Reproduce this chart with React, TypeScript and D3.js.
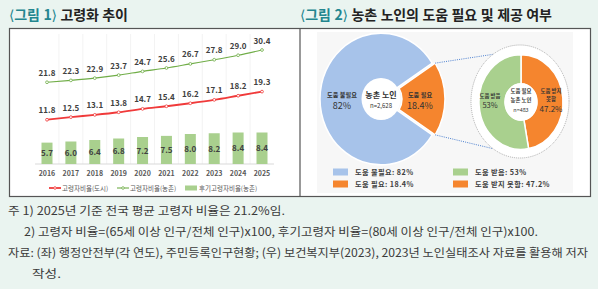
import * as d3 from 'd3'

const years = ['2016', '2017', '2018', '2019', '2020', '2021', '2022', '2023', '2024', '2025']
const urbanRatio = [11.8, 12.5, 13.1, 13.8, 14.7, 15.4, 16.2, 17.1, 18.2, 19.3]
const ruralRatio = [21.8, 22.3, 22.9, 23.7, 24.7, 25.6, 26.7, 27.8, 29.0, 30.4]
const ruralOldOld = [5.7, 6.0, 6.4, 6.8, 7.2, 7.5, 8.0, 8.2, 8.4, 8.4]
const lineLegend = ['고령자비율(도시)', '고령자비율(농촌)', '후기고령자비율(농촌)']

const needLabels = ['도움 필요', '도움 불필요']
const needValues = [18.4, 82]
const helpLabels = ['도움 받지 못함', '도움 받음']
const helpValues = [47.2, 53]

const FONT = "'Noto Sans CJK KR', 'Noto Sans', sans-serif"
const TEAL = '#23868f'
const BLUE = '#a7c3ea'
const ORANGE = '#f5852e'
const GREEN = '#a9d08e'
const RED = '#f03a3a'
const GREEN_LINE = '#70ad47'
const TXT = '#404040'

const footnotes = [
  { x: 8, y: 215, w: 277, text: '주 1) 2025년 기준 전국 평균 고령자 비율은 21.2%임.' },
  { x: 24, y: 236, w: 514, text: '2) 고령자 비율=(65세 이상 인구/전체 인구)x100, 후기고령자 비율=(80세 이상 인구/전체 인구)x100.' },
  { x: 8, y: 257, w: 580, text: '자료: (좌) 행정안전부(각 연도), 주민등록인구현황; (우) 보건복지부(2023), 2023년 노인실태조사 자료를 활용해 저자' },
  { x: 32, y: 278, w: 29, text: '작성.' },
]

function TrendPanel() {
  const x = d3.scalePoint<string>().domain(years).range([47, 262])
  const y = d3.scaleLinear().domain([0, 35]).range([164, 164 - 35 * 3.75])
  const barW = 11
  const step = x.step()

  const line = d3
    .line<number>()
    .x((_, i) => x(years[i])!)
    .y(d => y(d))
    .curve(d3.curveMonotoneX)

  return (
    <g fontFamily={FONT}>
      {/* faint category separators */}
      {years.slice(0, -1).map(yr => (
        <line key={yr} x1={x(yr)! + step / 2} x2={x(yr)! + step / 2} y1={34} y2={164} stroke="#f3f3f3" />
      ))}
      <line x1={x(years[0])! - step / 2} x2={x(years[9])! + step / 2} y1={y(0)} y2={y(0)} stroke="#d9d9d9" />

      {ruralOldOld.map((v, i) => (
        <g key={i}>
          <rect x={x(years[i])! - barW / 2} y={y(v)} width={barW} height={y(0) - y(v)} fill={GREEN} />
          <text x={x(years[i])!} y={(y(v) + y(0)) / 2 + 3} textAnchor="middle" fontSize={8} fontWeight={700} fill={TXT}>
            {v.toFixed(1)}
          </text>
        </g>
      ))}

      <path d={line(urbanRatio)!} fill="none" stroke={RED} strokeWidth={1.8} />
      <path d={line(ruralRatio)!} fill="none" stroke={GREEN_LINE} strokeWidth={1.1} />

      {[{ s: urbanRatio, c: RED }, { s: ruralRatio, c: GREEN_LINE }].map(({ s, c }) =>
        s.map((v, i) => (
          <g key={c + i}>
            <circle cx={x(years[i])!} cy={y(v)} r={1.4} fill="#fff" stroke={c} strokeWidth={0.8} />
            <text x={x(years[i])!} y={y(v) - 6.5} textAnchor="middle" fontSize={8} fontWeight={700} fill={TXT}>
              {v.toFixed(1)}
            </text>
          </g>
        ))
      )}

      {years.map(yr => (
        <text key={yr} x={x(yr)!} y={176} textAnchor="middle" fontSize={7} fontWeight={700} fill="#595959">
          {yr}
        </text>
      ))}

      {/* legend */}
      <g fontSize={6.5} fill="#595959">
        <line x1={49} x2={61} y1={188} y2={188} stroke={RED} strokeWidth={1.8} />
        <circle cx={55} cy={188} r={1.3} fill="#fff" stroke={RED} strokeWidth={0.8} />
        <text x={62} y={190.5}>{lineLegend[0]}</text>
        <line x1={117} x2={129} y1={188} y2={188} stroke={GREEN_LINE} strokeWidth={1.1} />
        <circle cx={123} cy={188} r={1.3} fill="#fff" stroke={GREEN_LINE} strokeWidth={0.8} />
        <text x={130} y={190.5}>{lineLegend[1]}</text>
        <rect x={185} y={185.5} width={12} height={5} fill={GREEN} />
        <text x={199} y={190.5}>{lineLegend[2]}</text>
      </g>
    </g>
  )
}

function HelpPanel() {
  // left donut: need for help
  const c1 = { x: 381, y: 99, r: 61, sy: 1.08 }
  const tot1 = d3.sum(needValues)
  const a0 = Math.PI / 2 - (needValues[0] / tot1) * Math.PI
  const pie1 = d3.pie<number>().sort(null).startAngle(a0).endAngle(a0 + 2 * Math.PI)(needValues)
  const arc1 = d3.arc<d3.PieArcDatum<number>>().innerRadius(18).outerRadius(c1.r)
  const boom = 3

  // right donut: help received
  const c2 = { x: 521, y: 102, r: 42, sy: 1.13 }
  const pie2 = d3.pie<number>().sort(null).startAngle(0).endAngle(2 * Math.PI)(helpValues)
  const arc2 = d3.arc<d3.PieArcDatum<number>>().innerRadius(16).outerRadius(c2.r)
  const ring = { x: 520, y: 101.5, rx: 49, ry: 56.5 }

  // dotted connectors from the exploded slice to the zoom ring
  const corner = (a: number) => ({
    x: c1.x + boom + Math.sin(a) * c1.r,
    y: c1.y - Math.cos(a) * c1.r * c1.sy,
  })
  const ringPt = (phi: number) => ({
    x: ring.x + Math.cos(phi) * ring.rx,
    y: ring.y + Math.sin(phi) * ring.ry,
  })
  const p1 = corner(pie1[0].startAngle)
  const p2 = corner(pie1[0].endAngle)
  const q1 = ringPt((-123.4 * Math.PI) / 180)
  const q2 = ringPt((123.4 * Math.PI) / 180)

  const legend = [
    { x: 333, y: 172, c: BLUE, t: `도움 불필요: ${needValues[1]}%` },
    { x: 333, y: 184, c: ORANGE, t: `도움 필요: ${needValues[0]}%` },
    { x: 453, y: 172, c: GREEN, t: `도움 받음: ${helpValues[1]}%` },
    { x: 453, y: 184, c: ORANGE, t: `도움 받지 못함: ${helpValues[0]}%` },
  ]

  return (
    <g fontFamily={FONT}>
      <rect x={317} y={32} width={256} height={161} fill="#f7f7f7" />

      <g transform={`translate(${c1.x},${c1.y}) scale(1,${c1.sy})`}>
        {pie1.map((d, i) => (
          <path
            key={i}
            d={arc1(d)!}
            fill={i === 0 ? ORANGE : BLUE}
            stroke="#fff"
            strokeWidth={1.5}
            transform={i === 0 ? `translate(${boom},0)` : undefined}
          />
        ))}
        <circle r={19.5} fill="#fff" />
      </g>

      <line x1={p1.x} y1={p1.y} x2={q1.x} y2={q1.y} stroke="#4a7fd0" strokeWidth={1} strokeDasharray="1 1.2" />
      <line x1={p2.x} y1={p2.y} x2={q2.x} y2={q2.y} stroke="#4a7fd0" strokeWidth={1} strokeDasharray="1 1.2" />

      <ellipse cx={ring.x} cy={ring.y} rx={ring.rx} ry={ring.ry} fill="#fff" stroke="#9a9a9a" strokeWidth={0.8} strokeDasharray="1 1" />
      <g transform={`translate(${c2.x},${c2.y}) scale(1,${c2.sy})`}>
        {pie2.map((d, i) => (
          <path key={i} d={arc2(d)!} fill={i === 0 ? ORANGE : GREEN} stroke="#fff" strokeWidth={1.5} />
        ))}
        <circle r={16.5} fill="#fff" />
      </g>

      <g fill="#333" textAnchor="middle">
        <text x={342} y={97} fontSize={6.2} fontWeight={700}>{needLabels[1]}</text>
        <text x={342} y={109} fontSize={9}>{needValues[1]}%</text>
        <text x={381} y={98} fontSize={8} fontWeight={700}>농촌 노인</text>
        <text x={381} y={108} fontSize={6}>n=2,628</text>
        <text x={420} y={97} fontSize={6.2} fontWeight={700}>{needLabels[0]}</text>
        <text x={420} y={109} fontSize={9}>{needValues[0]}%</text>

        <text x={490} y={98} fontSize={5.4} fontWeight={700}>{helpLabels[1]}</text>
        <text x={490} y={108} fontSize={7.5}>{helpValues[1]}%</text>
        <text x={521} y={93} fontSize={5.4} fontWeight={700}>도움 필요</text>
        <text x={521} y={102} fontSize={5.4} fontWeight={700}>농촌 노인</text>
        <text x={521} y={112} fontSize={5.4}>n=483</text>
        <text x={551} y={93} fontSize={5.4} fontWeight={700}>도움 받지</text>
        <text x={551} y={101} fontSize={5.4} fontWeight={700}>못함</text>
        <text x={551} y={112} fontSize={8}>{helpValues[0]}%</text>
      </g>

      {legend.map(l => (
        <g key={l.t}>
          <rect x={l.x} y={l.y - 3.5} width={15} height={7} fill={l.c} />
          <text x={l.x + 22} y={l.y + 2.6} fontSize={7.2} fontWeight={700} fill="#404040" letterSpacing={0.4}>
            {l.t}
          </text>
        </g>
      ))}
    </g>
  )
}

// figure heading; narrow math brackets keep the number tight
function Heading({ x, num, title }: { x: number; num: string; title: string }) {
  return (
    <text x={x} y={20} fontSize={14} fontWeight={700} letterSpacing={-0.2} wordSpacing={0.8}>
      <tspan fill={TEAL} fontFamily="'DejaVu Sans'" fontWeight={400}>⟨</tspan>
      <tspan fill={TEAL}>그림 {num}</tspan>
      <tspan fill={TEAL} fontFamily="'DejaVu Sans'" fontWeight={400}>⟩</tspan>
      <tspan fill="#222"> {title}</tspan>
    </text>
  )
}

export default function App() {
  return (
    <svg
      width={598}
      height={289}
      style={{ position: 'absolute', left: 0, top: 0, display: 'block' }}
      fontFamily={FONT}
    >
      <rect width={598} height={289} fill="#eaf4f0" />

      <Heading x={9} num="1" title="고령화 추이" />
      <Heading x={300} num="2" title="농촌 노인의 도움 필요 및 제공 여부" />

      <rect x={9.5} y={28.5} width={581} height={168} fill="#fff" stroke="#555" strokeWidth={1.2} />
      <line x1={300} x2={300} y1={28.5} y2={196.5} stroke="#555" strokeWidth={1.2} />

      <TrendPanel />
      <HelpPanel />

      {footnotes.map(f => (
        <text key={f.y} x={f.x} y={f.y} fontSize={11.5} fill="#3a3a3a" textLength={f.w} lengthAdjust="spacingAndGlyphs">
          {f.text}
        </text>
      ))}
    </svg>
  )
}
